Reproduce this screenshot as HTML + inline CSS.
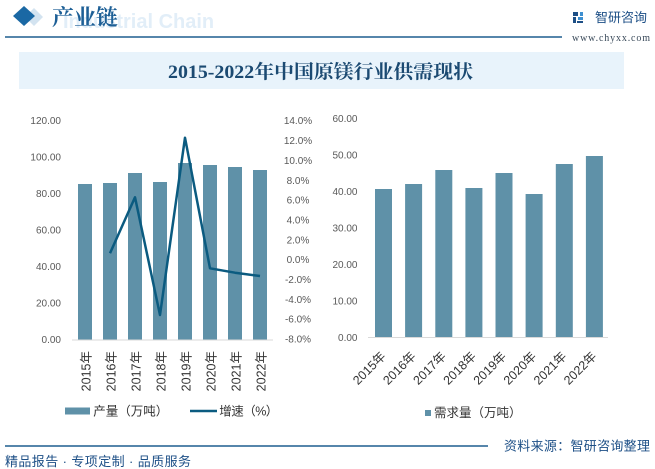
<!DOCTYPE html>
<html><head><meta charset="utf-8"><style>
html,body{margin:0;padding:0;background:#fff;}
svg{display:block;}
</style></head><body>
<svg width="655" height="469" viewBox="0 0 655 469" xmlns="http://www.w3.org/2000/svg" font-family="'Liberation Sans','Noto Sans CJK SC',sans-serif">
<rect width="655" height="469" fill="#fff"/>
<!-- header -->
<polygon points="34,8 43,17 34,26 25,17" fill="#d3e3f0"/>
<polygon points="24,6 35,16 24,26 13,16" fill="#1a68a4"/>
<text x="63" y="28" font-size="20" font-weight="bold" fill="#e2eef8">Industrial Chain</text>
<text x="52" y="25" font-size="22" font-weight="bold" fill="#1d5f96" textLength="66" font-family="'Noto Serif CJK SC','Noto Sans CJK SC',serif">产业链</text>
<line x1="5" y1="37" x2="562" y2="37" stroke="#1f5f8f" stroke-width="1.5"/>
<rect x="573" y="12" width="5" height="4" fill="#1d4f86"/>
<rect x="573" y="17" width="3" height="6" fill="#1d4f86"/>
<rect x="578" y="17" width="5" height="3" fill="#3d8fd0"/>
<rect x="580" y="12" width="3" height="4" fill="#3d8fd0"/>
<rect x="577" y="21" width="6" height="2" fill="#1d4f86"/>
<text x="595" y="22" font-size="13" fill="#1d4f86" textLength="52">智研咨询</text>
<text x="572" y="41" font-size="10" fill="#3a4a5a" font-family="'Liberation Serif',serif" textLength="78">www.chyxx.com</text>
<!-- title banner -->
<rect x="19" y="52" width="605" height="37" fill="#e8f3fb"/>
<text x="168" y="78" font-size="19" font-weight="bold" fill="#1b4a72" font-family="'Liberation Serif','Noto Serif CJK SC',serif" textLength="305" lengthAdjust="spacingAndGlyphs">2015-2022年中国原镁行业供需现状</text>

<!-- left chart -->
<g font-size="10" fill="#595959" text-anchor="end">
<text x="61" y="343">0.00</text>
<text x="61" y="306.5">20.00</text>
<text x="61" y="270">40.00</text>
<text x="61" y="233.5">60.00</text>
<text x="61" y="197">80.00</text>
<text x="61" y="160.5">100.00</text>
<text x="61" y="124">120.00</text>
</g>
<g font-size="10" fill="#595959" text-anchor="middle">
<text x="298" y="124.2">14.0%</text>
<text x="298" y="144">12.0%</text>
<text x="298" y="163.9">10.0%</text>
<text x="298" y="183.8">8.0%</text>
<text x="298" y="203.6">6.0%</text>
<text x="298" y="223.4">4.0%</text>
<text x="298" y="243.3">2.0%</text>
<text x="298" y="263.1">0.0%</text>
<text x="298" y="282.9">-2.0%</text>
<text x="298" y="302.8">-4.0%</text>
<text x="298" y="322.6">-6.0%</text>
<text x="298" y="342.5">-8.0%</text>
</g>
<g fill="#5f91a8">
<rect x="78" y="184" width="14" height="156"/>
<rect x="103" y="183" width="14" height="157"/>
<rect x="128" y="173" width="14" height="167"/>
<rect x="153" y="182" width="14" height="158"/>
<rect x="178" y="163" width="14" height="177"/>
<rect x="203" y="165" width="14" height="175"/>
<rect x="228" y="167" width="14" height="173"/>
<rect x="253" y="170" width="14" height="170"/>
</g>
<line x1="72" y1="340" x2="273" y2="340" stroke="#d9d9d9" stroke-width="1"/>
<polyline points="110,253.3 135,197.3 160,315 185,137.7 210,268.3 235,272.7 260,276" fill="none" stroke="#0b5b80" stroke-width="2.5" stroke-linejoin="round"/>
<g font-size="12.5" fill="#333" text-anchor="end">
<text transform="translate(90.5,351) rotate(-90)">2015年</text>
<text transform="translate(115.5,351) rotate(-90)">2016年</text>
<text transform="translate(140.5,351) rotate(-90)">2017年</text>
<text transform="translate(165.5,351) rotate(-90)">2018年</text>
<text transform="translate(190.5,351) rotate(-90)">2019年</text>
<text transform="translate(215.5,351) rotate(-90)">2020年</text>
<text transform="translate(240.5,351) rotate(-90)">2021年</text>
<text transform="translate(265.5,351) rotate(-90)">2022年</text>
</g>
<rect x="65" y="407.5" width="25" height="7" fill="#5f91a8"/>
<text x="93.3" y="415.5" font-size="12.5" fill="#333" textLength="75">产量（万吨）</text>
<line x1="190" y1="411" x2="217" y2="411" stroke="#0b5b80" stroke-width="2.5"/>
<text x="219.3" y="415.5" font-size="12.5" fill="#333" textLength="59">增速（%）</text>

<!-- right chart -->
<g font-size="10" fill="#595959" text-anchor="end">
<text x="357.5" y="341">0.00</text>
<text x="357.5" y="304.5">10.00</text>
<text x="357.5" y="268">20.00</text>
<text x="357.5" y="231.5">30.00</text>
<text x="357.5" y="195">40.00</text>
<text x="357.5" y="158.5">50.00</text>
<text x="357.5" y="122">60.00</text>
</g>
<g fill="#5f91a8">
<rect x="375" y="189" width="17" height="148.5"/>
<rect x="405.1" y="184" width="17" height="153.5"/>
<rect x="435.3" y="170" width="17" height="167.5"/>
<rect x="465.4" y="188" width="17" height="149.5"/>
<rect x="495.5" y="173" width="17" height="164.5"/>
<rect x="525.6" y="194" width="17" height="143.5"/>
<rect x="555.8" y="164" width="17" height="173.5"/>
<rect x="585.9" y="156" width="17" height="181.5"/>
</g>
<line x1="368" y1="337.5" x2="608" y2="337.5" stroke="#d9d9d9" stroke-width="1"/>
<g font-size="12.5" fill="#333" text-anchor="end">
<text transform="translate(386.5,357) rotate(-45)">2015年</text>
<text transform="translate(416.6,357) rotate(-45)">2016年</text>
<text transform="translate(446.8,357) rotate(-45)">2017年</text>
<text transform="translate(476.9,357) rotate(-45)">2018年</text>
<text transform="translate(507,357) rotate(-45)">2019年</text>
<text transform="translate(537.1,357) rotate(-45)">2020年</text>
<text transform="translate(567.3,357) rotate(-45)">2021年</text>
<text transform="translate(597.4,357) rotate(-45)">2022年</text>
</g>
<rect x="425" y="410" width="6" height="6" fill="#5f91a8"/>
<text x="434" y="417" font-size="12.5" fill="#333" textLength="87.5">需求量（万吨）</text>

<!-- footer -->
<line x1="5" y1="446" x2="488" y2="446" stroke="#1f5f8f" stroke-width="1.5"/>
<text x="504" y="450.5" font-size="13" fill="#1d4f86" textLength="146">资料来源：智研咨询整理</text>
<text x="5" y="466" font-size="13" fill="#1d4f86" textLength="186">精品报告 · 专项定制 · 品质服务</text>
</svg>
</body></html>
